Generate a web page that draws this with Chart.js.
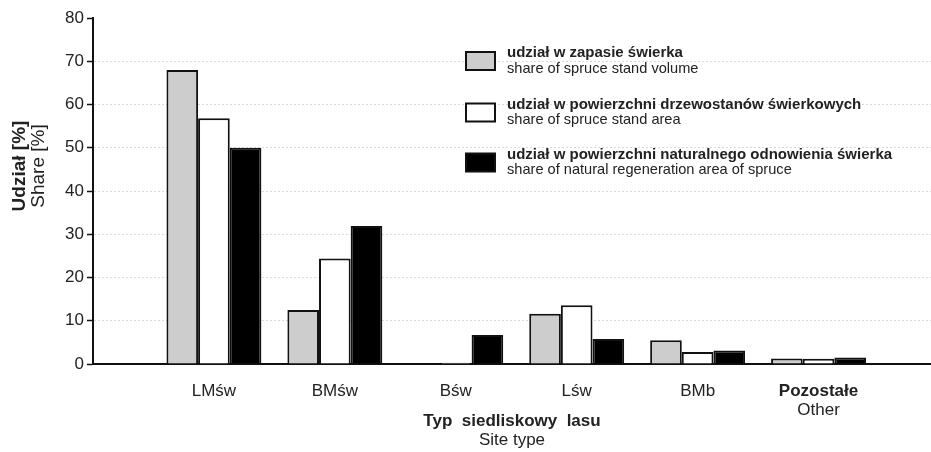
<!DOCTYPE html>
<html>
<head>
<meta charset="utf-8">
<script src="https://cdn.jsdelivr.net/npm/chart.js@4.4.0/dist/chart.umd.min.js"></script>
<style>
  html, body { margin: 0; padding: 0; background: #fff; }
  #wrap { width: 931px; height: 452px; position: relative; }
</style>
</head>
<body>
<div id="wrap"><canvas id="chart"></canvas></div>
<script>
// data
const categories = ['LMśw', 'BMśw', 'Bśw', 'Lśw', 'BMb', 'Pozostałe'];
const categoriesEn = ['', '', '', '', '', 'Other'];
const volumeShare = [68.0, 12.5, 0.1, 11.6, 5.5, 1.3];
const areaShare = [56.8, 24.4, 0.3, 13.6, 2.8, 1.2];
const regenShare = [50.0, 31.9, 6.7, 5.8, 3.1, 1.5];
const seriesPl = [
  'udział w zapasie świerka',
  'udział w powierzchni drzewostanów świerkowych',
  'udział w powierzchni naturalnego odnowienia świerka'
];
const seriesEn = [
  'share of spruce stand volume',
  'share of spruce stand area',
  'share of natural regeneration area of spruce'
];
const seriesColors = ['#cdcdcd', '#ffffff', '#000000'];

const FONT = '"Liberation Sans", Arial, sans-serif';
const TXT = '#222';

const toPoints = arr => arr.map((v, i) => ({ x: i + 1, y: v }));

// secondary texts + legend
const extraText = {
  id: 'extraText',
  afterDraw(chart) {
    const ctx = chart.ctx;
    const xs = chart.scales.x;
    const area = chart.chartArea;
    ctx.save();
    ctx.fillStyle = TXT;
    ctx.textAlign = 'center';
    ctx.textBaseline = 'middle';

    ctx.font = '17px ' + FONT;
    categoriesEn.forEach((t, i) => {
      if (t) ctx.fillText(t, xs.getPixelForValue(i + 1), 410);
    });

    const cx = (area.left + area.right) / 2;
    ctx.font = 'bold 17px ' + FONT;
    ctx.fillText('Typ  siedliskowy  lasu', cx, 421);
    ctx.font = '17px ' + FONT;
    ctx.fillText('Site type', cx, 440);

    // y title
    ctx.save();
    ctx.translate(20, 166);
    ctx.rotate(-Math.PI / 2);
    ctx.font = 'bold 19px ' + FONT;
    ctx.fillText('Udział [%]', 0, 0);
    ctx.font = '19px ' + FONT;
    ctx.fillText('Share [%]', 0, 19);
    ctx.restore();

    // legend
    const rows = [[53, 69], [105, 120], [155, 170]];
    ctx.textAlign = 'left';
    seriesPl.forEach((lab, i) => {
      const [y1, y2] = rows[i];
      const by = (y1 + y2) / 2 - 9;
      ctx.fillStyle = seriesColors[i];
      ctx.fillRect(466, by, 29, 18);
      ctx.strokeStyle = '#111';
      ctx.lineWidth = 2;
      ctx.strokeRect(466, by, 29, 18);
      ctx.fillStyle = TXT;
      ctx.font = 'bold 15px ' + FONT;
      ctx.fillText(lab, 507, y1);
      ctx.font = '14.6px ' + FONT;
      ctx.fillText(seriesEn[i], 507, y2);
    });
    ctx.restore();
  }
};

const datasets = [volumeShare, areaShare, regenShare].map((vals, i) => ({
  label: seriesPl[i],
  data: toPoints(vals),
  backgroundColor: seriesColors[i],
  borderColor: '#111',
  borderWidth: 2
}));

new Chart(document.getElementById('chart'), {
  type: 'bar',
  data: { datasets: datasets },
  options: {
    responsive: true,
    maintainAspectRatio: false,
    animation: false,
    layout: { padding: { top: 18, right: 0, bottom: 0, left: 0 } },
    plugins: {
      legend: { display: false },
      tooltip: { enabled: false }
    },
    datasets: {
      bar: { categoryPercentage: 0.785, barPercentage: 1 }
    },
    scales: {
      x: {
        type: 'linear',
        offset: false,
        min: 0,
        max: 6.93,
        afterBuildTicks: s => { s.ticks = categories.map((c, i) => ({ value: i + 1 })); },
        afterFit: s => { s.height = 88; },
        grid: { display: false, offset: false },
        border: { color: '#111', width: 2 },
        ticks: {
          autoSkip: false,
          maxRotation: 0,
          padding: 9,
          color: TXT,
          callback: v => categories[v - 1] || '',
          font: c => ({ family: FONT, size: 17, weight: c.index === 5 ? 'bold' : 'normal' })
        }
      },
      y: {
        min: 0,
        max: 80,
        afterFit: s => { s.width = 93; },
        border: { color: '#111', width: 2, dash: [2, 2] },
        grid: {
          color: c => (c.tick && c.tick.value > 0 && c.tick.value < 80) ? '#d9d9d9' : 'rgba(0,0,0,0)',
          tickColor: '#111',
          tickLength: 6,
          tickWidth: 1.5
        },
        ticks: {
          stepSize: 10,
          padding: 3,
          color: TXT,
          font: { family: FONT, size: 17 }
        }
      }
    }
  },
  plugins: [extraText]
});
</script>
</body>
</html>
